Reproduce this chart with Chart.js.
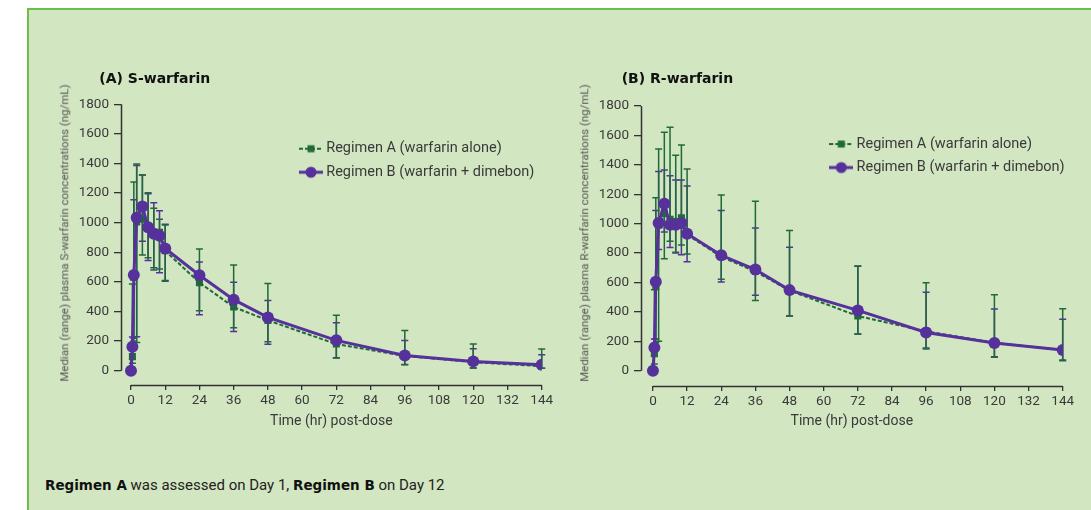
<!DOCTYPE html>
<html>
<head>
<meta charset="utf-8">
<script src="https://cdn.jsdelivr.net/npm/chart.js@4.4.1/dist/chart.umd.min.js"></script>
<style>
html,body{margin:0;padding:0;width:1091px;height:510px;overflow:hidden;background:#ffffff;font-family:Roboto,"Liberation Sans",sans-serif;}
#panel{position:absolute;left:27px;top:8px;width:1100px;height:540px;background:#d2e6c1;border:2px solid #6cbf4b;box-sizing:border-box;}
canvas{position:absolute;}
.ytitle{position:absolute;white-space:nowrap;font-size:11.5px;color:#555555;line-height:1;transform:translate(-50%,-50%) rotate(-90deg);}
#foot{position:absolute;left:45px;top:477px;font-size:15px;line-height:16px;color:#222;white-space:nowrap;}
#foot b{font-family:"DejaVu Sans",sans-serif;font-weight:bold;font-size:13.5px;color:#111;}
</style>
</head>
<body>
<div id="panel"></div>
<canvas id="chartS" width="520" height="380" style="left:40px;top:60px;width:520px;height:380px;"></canvas>
<canvas id="chartR" width="530" height="380" style="left:560px;top:60px;width:530px;height:380px;"></canvas>
<div class="ytitle" style="left:65px;top:233px;">Median (range) plasma S-warfarin concentrations (ng/mL)</div>
<div class="ytitle" style="left:585px;top:233px;">Median (range) plasma R-warfarin concentrations (ng/mL)</div>
<div id="foot"><b>Regimen A</b> was assessed on Day 1, <b>Regimen B</b> on Day 12</div>
<script>
// ---------- data ----------
const times = [0, 0.5, 1, 2, 4, 6, 8, 10, 12, 24, 36, 48, 72, 96, 120, 144];
const xTickValues = [0, 12, 24, 36, 48, 60, 72, 84, 96, 108, 120, 132, 144];
const yTickValues = [0, 200, 400, 600, 800, 1000, 1200, 1400, 1600, 1800];
const seriesLabels = ['Regimen A (warfarin alone)', 'Regimen B (warfarin + dimebon)'];
const panelTitles = ['(A) S-warfarin', '(B) R-warfarin'];
const xAxisTitle = 'Time (hr) post-dose';

// S-warfarin
const sA    = [0, 95, 630, 1005, 1025, 960, 935, 935, 810, 595, 430, 340, 180, 100, 58, 30];
const sAmin = [0, 50, 200, 190, 782, 764, 680, 687, 604, 405, 291, 196, 86, 40, 18, 16];
const sAmax = [0, 585, 1275, 1397, 1322, 1203, 1097, 1023, 985, 822, 714, 590, 374, 272, 180, 146];
const sB    = [0, 162, 647, 1034, 1110, 970, 926, 912, 826, 645, 480, 360, 205, 103, 63, 40];
const sBmin = [0, 77, 220, 230, 875, 745, 695, 662, 610, 378, 265, 178, 88, 42, 18, 16];
const sBmax = [0, 228, 1155, 1386, 1322, 1195, 1135, 1080, 990, 735, 598, 475, 324, 204, 148, 108];

// R-warfarin
const rA    = [0, 115, 575, 990, 1070, 1030, 1015, 1040, 925, 775, 675, 545, 372, 268, 190, 140];
const rAmin = [0, 45, 190, 200, 762, 880, 805, 855, 793, 622, 478, 372, 250, 148, 91, 68];
const rAmax = [0, 550, 1176, 1507, 1622, 1655, 1465, 1535, 1371, 1194, 1153, 954, 712, 598, 517, 422];
const rB    = [0, 157, 605, 1005, 1135, 992, 992, 1005, 932, 785, 688, 548, 410, 260, 188, 141];
const rBmin = [0, 100, 215, 825, 943, 838, 800, 788, 741, 603, 513, 372, 250, 155, 95, 72];
const rBmax = [0, 215, 1090, 1355, 1364, 1325, 1296, 1296, 1256, 1090, 970, 840, 710, 533, 419, 350];

// ---------- styling ----------
const GREEN = '#1f6a38';
const PURPLE = '#56309b';
const AXIS = '#333333';
const TEXT = '#3a3a3a';

Chart.defaults.font.family = 'Roboto, "Liberation Sans", sans-serif';
Chart.defaults.color = TEXT;

function makeIcon(color, dashed, shape) {
  const c = document.createElement('canvas');
  c.width = 24; c.height = 14;
  const g = c.getContext('2d');
  g.strokeStyle = color; g.fillStyle = color;
  g.lineWidth = dashed ? 2 : 3;
  if (dashed) g.setLineDash([4, 2]);
  g.beginPath(); g.moveTo(0, 7); g.lineTo(24, 7); g.stroke();
  g.setLineDash([]);
  if (shape === 'rect') { g.fillRect(8.5, 3.5, 7, 7); }
  else { g.beginPath(); g.arc(12, 7, 5.5, 0, Math.PI * 2); g.fill(); }
  return c;
}
const icons = [makeIcon(GREEN, true, 'rect'), makeIcon(PURPLE, false, 'circle')];

const errorBars = {
  id: 'errorBars',
  beforeDatasetsDraw(chart) {
    const {ctx, scales: {x, y}} = chart;
    ctx.save();
    for (const i of [1, 0]) {
      const ds = chart.data.datasets[i];
      ctx.strokeStyle = ds.borderColor;
      ctx.lineWidth = 1.5;
      ds.data.forEach((p, j) => {
        const px = x.getPixelForValue(p.x);
        const y1 = y.getPixelForValue(ds.errMin[j]);
        const y2 = y.getPixelForValue(ds.errMax[j]);
        if (Math.abs(y1 - y2) < 1) return;
        ctx.beginPath();
        ctx.moveTo(px, y1); ctx.lineTo(px, y2);
        ctx.moveTo(px - 3.5, y1); ctx.lineTo(px + 3.5, y1);
        ctx.moveTo(px - 3.5, y2); ctx.lineTo(px + 3.5, y2);
        ctx.stroke();
      });
    }
    ctx.restore();
  }
};

const axisLines = {
  id: 'axisLines',
  beforeDatasetsDraw(chart) {
    const {ctx, chartArea, scales: {x, y}} = chart;
    ctx.save();
    ctx.strokeStyle = AXIS;
    ctx.lineWidth = 1.5;
    ctx.beginPath();
    const xl = Math.round(chartArea.left) + 0.5;
    ctx.moveTo(xl, y.getPixelForValue(yTickValues[0]));
    ctx.lineTo(xl, y.getPixelForValue(yTickValues[yTickValues.length - 1]));
    const yb = Math.round(chartArea.bottom) + 0.5;
    ctx.moveTo(x.getPixelForValue(xTickValues[0]), yb);
    ctx.lineTo(x.getPixelForValue(xTickValues[xTickValues.length - 1]), yb);
    ctx.stroke();
    ctx.restore();
  }
};

// moves the legend inside the plot and the panel title to its left offset
const boxPlacer = {
  id: 'boxPlacer',
  afterLayout(chart, args, opts) {
    const lg = chart.legend;
    if (lg) {
      const w = lg.width, h = lg.height;
      lg.left = opts.legendX; lg.top = opts.legendY;
      lg.right = opts.legendX + w; lg.bottom = opts.legendY + h;
    }
    const tb = chart.titleBlock;
    if (tb) {
      const w = tb.right - tb.left;
      tb.left = opts.titleX; tb.right = opts.titleX + w;
    }
  }
};

function makeChart(id, c) {
  const pts = arr => times.map((t, i) => ({x: t, y: arr[i]}));
  return new Chart(document.getElementById(id), {
    type: 'line',
    data: {
      datasets: [
        {
          label: seriesLabels[0], data: pts(c.A), errMin: c.Amin, errMax: c.Amax,
          borderColor: GREEN, backgroundColor: GREEN, borderWidth: 2, borderDash: [4, 2],
          pointStyle: 'rect', pointRadius: 5, pointBorderWidth: 0, order: 2, tension: 0
        },
        {
          label: seriesLabels[1], data: pts(c.B), errMin: c.Bmin, errMax: c.Bmax,
          borderColor: PURPLE, backgroundColor: PURPLE, borderWidth: 3,
          pointStyle: 'circle', pointRadius: 6, pointBorderWidth: 0, order: 1, tension: 0
        }
      ]
    },
    options: {
      responsive: false,
      animation: false,
      devicePixelRatio: 1,
      layout: {padding: {left: 20, right: c.padRight, top: 0, bottom: c.padBottom}},
      scales: {
        x: {
          type: 'linear', min: c.xMin, max: 144,
          afterBuildTicks: s => { s.ticks = xTickValues.map(v => ({value: v})); },
          afterFit: s => { s.height = c.xHeight; },
          ticks: {autoSkip: false, maxRotation: 0, padding: 3, font: {size: 13.5}, color: TEXT,
                  callback: v => String(v)},
          grid: {display: true, drawOnChartArea: false, drawTicks: true, tickLength: 5, color: AXIS, lineWidth: 1.3},
          border: {display: false},
          title: {display: true, text: xAxisTitle, font: {size: 14}, color: TEXT, padding: {top: 0, bottom: 0}}
        },
        y: {
          type: 'linear', min: c.yMin, max: 1800,
          afterBuildTicks: s => { s.ticks = yTickValues.map(v => ({value: v})); },
          afterFit: s => { s.width = 61; },
          ticks: {autoSkip: false, padding: 5, font: {size: 13.5}, color: TEXT,
                  callback: v => String(v)},
          grid: {display: true, drawOnChartArea: false, drawTicks: true, tickLength: 7, color: AXIS, lineWidth: 1.3},
          border: {display: false}
        }
      },
      plugins: {
        title: {
          display: true, text: c.title, align: 'start',
          font: {family: '"DejaVu Sans", sans-serif', size: 14, weight: 'bold', lineHeight: 1.2},
          color: '#111', padding: {top: c.titleTop, bottom: c.titleBottom}
        },
        legend: {
          display: true, position: 'chartArea', align: 'start',
          labels: {
            usePointStyle: true, pointStyleWidth: 16, padding: 9,
            font: {size: 14.5}, color: TEXT,
            generateLabels: ch => ch.data.datasets.map((ds, i) => ({
              text: ds.label, datasetIndex: i, pointStyle: icons[i],
              fillStyle: ds.borderColor, strokeStyle: ds.borderColor, lineWidth: 0,
              hidden: false, rotation: 0, fontColor: TEXT
            }))
          }
        },
        tooltip: {enabled: false},
        boxPlacer: {legendX: c.legendX, legendY: c.legendY, titleX: c.titleX}
      }
    },
    plugins: [errorBars, axisLines, boxPlacer]
  });
}

makeChart('chartS', {
  A: sA, Amin: sAmin, Amax: sAmax, B: sB, Bmin: sBmin, Bmax: sBmax, title: panelTitles[0],
  xMin: -3.5, yMin: -96.6, titleX: 59.3, padRight: 18.3,
  xHeight: 44.8, padBottom: 10.2, titleTop: 10.6, titleBottom: 16.9,
  legendX: 254, legendY: 72.5
});
makeChart('chartR', {
  A: rA, Amin: rAmin, Amax: rAmax, B: rB, Bmin: rBmin, Bmax: rBmax, title: panelTitles[1],
  xMin: -4.2, yMin: -104, titleX: 61.7, padRight: 27.3,
  xHeight: 43.8, padBottom: 10.2, titleTop: 10.6, titleBottom: 18.6,
  legendX: 264.3, legendY: 67.8
});
</script>
</body>
</html>
